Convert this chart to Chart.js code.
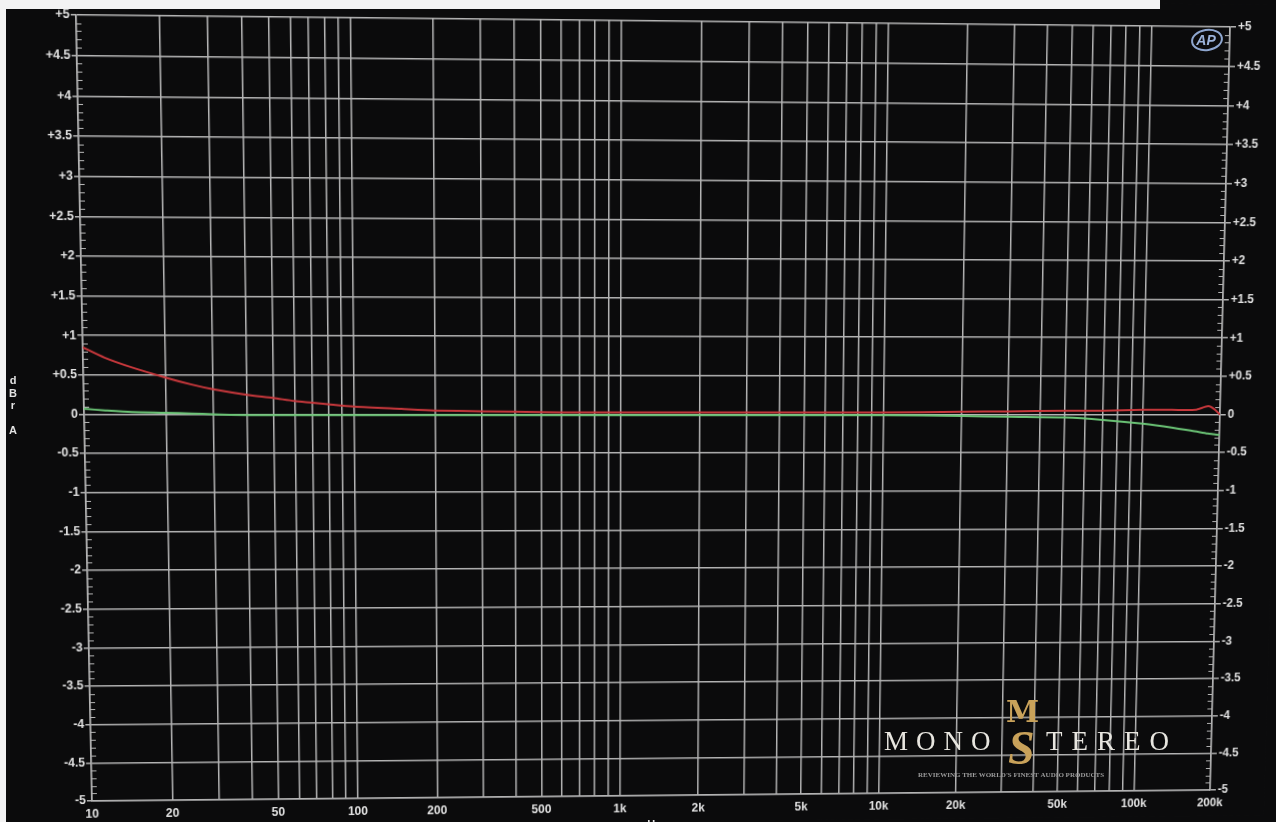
<!DOCTYPE html>
<html>
<head>
<meta charset="utf-8">
<script src="https://cdn.jsdelivr.net/npm/chart.js@4.4.1/dist/chart.umd.min.js"></script>
<style>
  html,body{margin:0;padding:0;background:#0b0b0c;overflow:hidden;}
  #wrap{width:1276px;height:822px;position:relative;overflow:hidden;background:#0b0b0c;}
  #c{position:absolute;left:0;top:0;transform-origin:0 0;}
  #ov{position:absolute;left:0;top:0;pointer-events:none;}
  .strip{position:absolute;background:#f3f3f3;}
</style>
</head>
<body>
<div id="wrap">
  <canvas id="c" width="1276" height="822"></canvas>
  <canvas id="ov" width="1276" height="822"></canvas>
  <div class="strip" style="left:0;top:0;width:1160px;height:9px"></div>
  <div class="strip" style="left:0;top:0;width:6px;height:822px"></div>
</div>
<script>
// ---- data ----
const freqs = [10, 12, 15, 20, 25, 30, 40, 50, 60, 70, 80, 100, 150, 200, 300, 500, 700, 1000, 2000, 5000, 10000, 20000, 30000, 50000, 70000, 100000, 130000, 160000, 180000, 190000, 200000];
const redValues = [0.85, 0.72, 0.6, 0.47, 0.38, 0.32, 0.25, 0.21, 0.17, 0.15, 0.13, 0.10, 0.07, 0.05, 0.04, 0.03, 0.025, 0.025, 0.025, 0.025, 0.025, 0.035, 0.04, 0.05, 0.05, 0.06, 0.06, 0.06, 0.11, 0.07, 0.0];
const greenValues = [0.07, 0.05, 0.03, 0.02, 0.01, 0.0, -0.01, -0.01, -0.01, -0.01, -0.01, -0.01, -0.01, -0.01, -0.01, -0.01, -0.01, -0.01, -0.01, -0.01, -0.01, -0.02, -0.03, -0.04, -0.07, -0.12, -0.17, -0.22, -0.25, -0.26, -0.27];
const xTickValues = [10, 20, 50, 100, 200, 500, 1000, 2000, 5000, 10000, 20000, 50000, 100000, 200000];
const xTickLabels = ['10', '20', '50', '100', '200', '500', '1k', '2k', '5k', '10k', '20k', '50k', '100k', '200k'];
const yTickValues = [5, 4.5, 4, 3.5, 3, 2.5, 2, 1.5, 1, 0.5, 0, -0.5, -1, -1.5, -2, -2.5, -3, -3.5, -4, -4.5, -5];
const yTickLabels = ['+5', '+4.5', '+4', '+3.5', '+3', '+2.5', '+2', '+1.5', '+1', '+0.5', '0', '-0.5', '-1', '-1.5', '-2', '-2.5', '-3', '-3.5', '-4', '-4.5', '-5'];
const yAxisTitle = ['d', 'B', 'r', '', 'A'];
const xAxisTitle = 'Hz';

const GRID = '#b4b4b4';
const LABEL = '#e2e2e2';
const FONT = {family: 'Liberation Sans, Arial, sans-serif', size: 12, weight: 'bold'};
const X_MIN = 10, X_MAX = 200000;

function gridTicks() {
  const out = [];
  for (let d = 10; d <= 100000; d *= 10) {
    for (let m = 1; m <= 9; m++) if (d * m <= X_MAX) out.push({value: d * m});
  }
  return out;
}
function xLabel(v) {
  const i = xTickValues.findIndex(t => Math.abs(t - v) < 1e-6 * t);
  return i >= 0 ? xTickLabels[i] : '';
}
function yLabel(v) {
  const i = yTickValues.findIndex(t => Math.abs(t - v) < 1e-6);
  return i >= 0 ? yTickLabels[i] : '';
}

const decor = {
  id: 'decor',
  beforeDraw(chart) {
    const ctx = chart.ctx;
    ctx.save();
    ctx.fillStyle = '#0b0b0c';
    ctx.fillRect(0, 0, chart.width, chart.height);
    ctx.restore();
  },
  afterDraw(chart) {
    const ctx = chart.ctx;
    const y = chart.scales.y;
    const a = chart.chartArea;
    ctx.save();
    ctx.strokeStyle = GRID;
    ctx.lineWidth = 1;
    for (let k = -50; k <= 50; k++) {
      if (k % 5 === 0) continue;
      const py = Math.round(y.getPixelForValue(k / 10)) + 0.5;
      ctx.beginPath();
      ctx.moveTo(a.left, py); ctx.lineTo(a.left + 5, py);
      ctx.moveTo(a.right - 5, py); ctx.lineTo(a.right, py);
      ctx.stroke();
    }
    ctx.restore();
  }
};

const chart = new Chart(document.getElementById('c'), {
  type: 'line',
  data: {
    datasets: [
      {label: 'Green', data: freqs.map((f, i) => ({x: f, y: greenValues[i]})), borderColor: '#6cc677', borderWidth: 2, pointRadius: 0, tension: 0.25},
      {label: 'Red', data: freqs.map((f, i) => ({x: f, y: redValues[i]})), borderColor: '#c8383c', borderWidth: 2, pointRadius: 0, tension: 0.25}
    ]
  },
  options: {
    responsive: false,
    animation: false,
    devicePixelRatio: 1,
    layout: {padding: {top: 22, left: 0, right: 0, bottom: 0}},
    plugins: {legend: {display: false}, tooltip: {enabled: false}},
    scales: {
      x: {
        type: 'logarithmic', min: X_MIN, max: X_MAX, position: 'bottom',
        afterBuildTicks: s => { s.ticks = gridTicks(); },
        afterFit: s => { s.height = 27; },
        grid: {color: GRID, lineWidth: 1.5, drawTicks: false},
        border: {color: GRID, width: 1.5},
        ticks: {color: LABEL, font: FONT, autoSkip: false, maxRotation: 0, padding: 6, callback: v => xLabel(v)}
      },
      y: {
        type: 'linear', min: -5, max: 5, position: 'left',
        afterBuildTicks: s => { s.ticks = yTickValues.map(v => ({value: v})); },
        afterFit: s => { s.width = 84; },
        grid: {color: GRID, lineWidth: 1.5, tickLength: 5},
        border: {color: GRID, width: 1.5},
        ticks: {color: LABEL, font: FONT, padding: 1, callback: v => yLabel(v)}
      },
      y2: {
        type: 'linear', min: -5, max: 5, position: 'right',
        afterBuildTicks: s => { s.ticks = yTickValues.map(v => ({value: v})); },
        afterFit: s => { s.width = 57; },
        grid: {color: GRID, lineWidth: 1.5, tickLength: 6, drawOnChartArea: false},
        border: {color: GRID, width: 1.5},
        ticks: {color: LABEL, font: FONT, padding: 2, callback: v => yLabel(v)}
      }
    }
  },
  plugins: [decor]
});

// ---- perspective of the photographed screen: map the chart area onto the quad seen in the photo ----
function homography(src, dst) {
  const A = [], b = [];
  for (let i = 0; i < 4; i++) {
    const [x, y] = src[i], [u, v] = dst[i];
    A.push([x, y, 1, 0, 0, 0, -u * x, -u * y]); b.push(u);
    A.push([0, 0, 0, x, y, 1, -v * x, -v * y]); b.push(v);
  }
  const n = 8;
  for (let c = 0; c < n; c++) {
    let p = c;
    for (let r = c + 1; r < n; r++) if (Math.abs(A[r][c]) > Math.abs(A[p][c])) p = r;
    [A[c], A[p]] = [A[p], A[c]]; [b[c], b[p]] = [b[p], b[c]];
    for (let r = 0; r < n; r++) {
      if (r === c) continue;
      const f = A[r][c] / A[c][c];
      for (let k = c; k < n; k++) A[r][k] -= f * A[c][k];
      b[r] -= f * b[c];
    }
  }
  return b.map((v, i) => v / A[i][i]);
}
const ca = chart.chartArea;
const h = homography(
  [[ca.left, ca.top], [ca.right, ca.top], [ca.right, ca.bottom], [ca.left, ca.bottom]],
  [[76, 15], [1230, 27], [1210, 790], [92, 801]]
);
document.getElementById('c').style.transform =
  `matrix3d(${h[0]},${h[3]},0,${h[6]},${h[1]},${h[4]},0,${h[7]},0,0,1,0,${h[2]},${h[5]},0,1)`;

// ---- overlay texts (axis titles, logos) in photo coordinates ----
const o = document.getElementById('ov').getContext('2d');
o.fillStyle = LABEL;
o.font = 'bold 11px Liberation Sans, Arial, sans-serif';
o.textAlign = 'center';
o.textBaseline = 'middle';
yAxisTitle.forEach((t, i) => o.fillText(t, 13, 381 + i * 12.5));
o.fillText(xAxisTitle, 654, 825);
// AP logo
o.strokeStyle = '#8ea6cf';
o.lineWidth = 2;
o.beginPath();
o.ellipse(1207, 40, 15, 10, -0.15, 0, Math.PI * 2);
o.stroke();
o.fillStyle = '#9cb3da';
o.font = 'italic bold 14px Liberation Sans, Arial, sans-serif';
o.fillText('AP', 1206, 41);
// MonoStereo watermark
o.textAlign = 'left';
o.textBaseline = 'alphabetic';
function drawSpaced(txt, x, yy, sp) {
  for (const ch of txt) { o.fillText(ch, x, yy); x += o.measureText(ch).width + sp; }
}
o.fillStyle = '#e8e6e0';
o.font = '27px Liberation Serif, DejaVu Serif, serif';
drawSpaced('MONO', 884, 750, 8);
drawSpaced('TEREO', 1046, 750, 9);
o.fillStyle = '#c9a25a';
o.font = 'italic bold 48px Liberation Serif, DejaVu Serif, serif';
o.fillText('S', 1008, 764);
o.font = 'bold 30px DejaVu Serif, serif';
o.fillText('M', 1006, 722);
o.fillStyle = '#9a9a9a';
o.font = 'bold 7px Liberation Serif, DejaVu Serif, serif';
o.fillText('REVIEWING THE WORLD\'S FINEST AUDIO PRODUCTS', 918, 777);
</script>
</body>
</html>
